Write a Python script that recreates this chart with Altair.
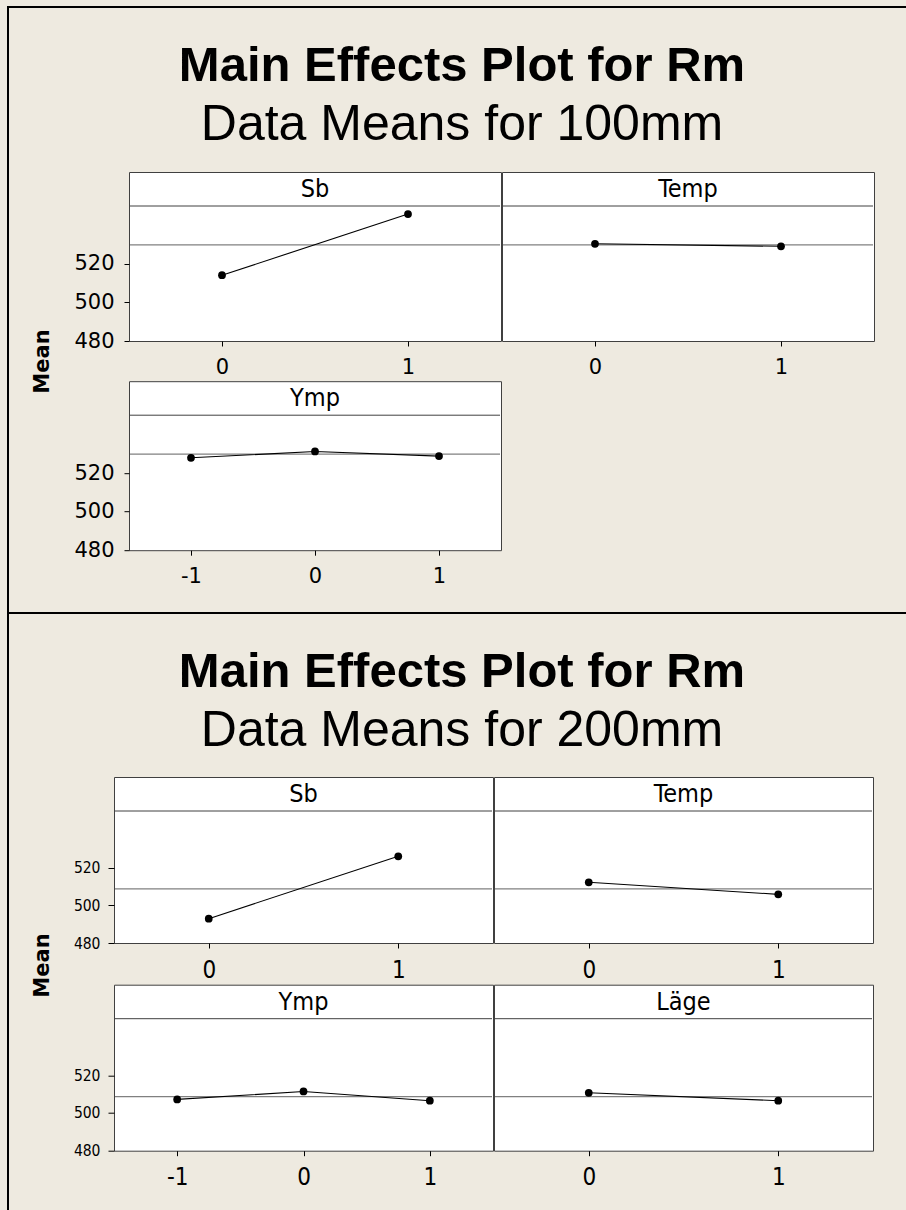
import altair as alt
import pandas as pd

# ---------------- data ----------------
main_title = "Main Effects Plot for Rm"
subtitle_100 = "Data Means for 100mm"
subtitle_200 = "Data Means for 200mm"
y_label = "Mean"

# 100 mm section
f100_names = ["Sb", "Temp", "Ymp"]
f100_levels = [[0, 1], [0, 1], [-1, 0, 1]]
f100_means = [[514.1, 545.8], [530.4, 529.1], [527.9, 531.2, 528.8]]
grand100 = 529.8

# 200 mm section
f200_names = ["Sb", "Temp", "Ymp", "Läge"]
f200_levels = [[0, 1], [0, 1], [-1, 0, 1], [0, 1]]
f200_means = [[492.9, 526.0], [512.2, 505.8], [507.2, 511.4, 506.5], [510.7, 506.5]]
grand200 = 508.7

y_ticks = [480, 500, 520]
y_domain = [480, 550]

# ---------------- style ----------------
BG = "#EEEAE0"
FRAME = "#404040"
REF = "#808080"
COND = "DejaVu Sans Condensed, DejaVu Sans"

STYLE_100 = dict(head_h=34, plot_h=135, head_font=COND, head_fs=25, head_base=25,
                 yfont="DejaVu Sans", yfs=21, ytick=5, ypad=10,
                 xfont="DejaVu Sans", xfs=21, xtick=5, xpad=10)
STYLE_200 = dict(head_h=34, plot_h=132, head_font=COND, head_fs=25, head_base=25,
                 yfont=COND, yfs=15.5, ytick=6, ypad=8,
                 xfont=COND, xfs=24, xtick=5, xpad=10)


def panel(name, levels, means, grand, width, show_y, st):
    head_h, plot_h = st["head_h"], st["plot_h"]
    total = head_h + plot_h
    df = pd.DataFrame({"level": levels, "mean": means})
    ref = pd.DataFrame({"mean": [grand]})
    lab = pd.DataFrame({"name": [name]})
    xs = alt.Scale(domain=[min(levels) - 0.5, max(levels) + 0.5], nice=False, zero=False)
    ys = alt.Scale(domain=y_domain, range=[total, head_h], nice=False, zero=False)
    if show_y:
        yaxis = alt.Axis(values=y_ticks, title=None, grid=False, domain=False,
                         tickSize=st["ytick"], tickColor="black", labelPadding=st["ypad"],
                         labelFont=st["yfont"], labelFontSize=st["yfs"], labelColor="black")
    else:
        yaxis = None
    xaxis = alt.Axis(values=levels, title=None, grid=False, domain=False,
                     tickSize=st["xtick"], tickColor="black", labelPadding=st["xpad"],
                     labelFont=st["xfont"], labelFontSize=st["xfs"], labelColor="black",
                     labelFlush=False,
                     labelExpr="datum.value < 0 ? '-' + format(-datum.value, 'd') : format(datum.value, 'd')")
    ref_line = alt.Chart(ref).mark_rule(color=REF, strokeWidth=1.3).encode(
        x=alt.value(1), x2=alt.value(width - 1),
        y=alt.Y("mean:Q", scale=ys, axis=yaxis))
    line = alt.Chart(df).mark_line(color="black", strokeWidth=1.1).encode(
        x=alt.X("level:Q", scale=xs, axis=xaxis),
        y=alt.Y("mean:Q", scale=ys, axis=yaxis))
    pts = alt.Chart(df).mark_circle(color="black", size=60, opacity=1).encode(
        x=alt.X("level:Q", scale=xs, axis=xaxis),
        y=alt.Y("mean:Q", scale=ys, axis=yaxis))
    hline = alt.Chart(lab).mark_rule(color=FRAME, strokeWidth=1).encode(
        x=alt.value(1), x2=alt.value(width - 1), y=alt.value(head_h))
    htext = alt.Chart(lab).mark_text(font=st["head_font"], fontSize=st["head_fs"],
                                     align="center", baseline="alphabetic", color="black").encode(
        text="name:N", x=alt.value(width / 2), y=alt.value(st["head_base"]))
    return alt.layer(ref_line, line, pts, hline, htext).properties(
        width=width, height=total,
        view=alt.ViewBackground(fill="white", stroke=FRAME, strokeWidth=1, strokeOpacity=1))


def title_chart(sub, width, height):
    d = pd.DataFrame({"t": [main_title], "s": [sub]})
    base = alt.Chart(d)
    t1 = base.mark_text(font="Liberation Sans", fontSize=49, fontWeight="bold", align="center",
                        baseline="alphabetic", color="black").encode(
        text="t:N", x=alt.value(455), y=alt.value(75))
    t2 = base.mark_text(font="Liberation Sans", fontSize=50, fontWeight="normal", align="center",
                        baseline="alphabetic", color="black").encode(
        text="s:N", x=alt.value(455), y=alt.value(134))
    top_bar = base.mark_rect(color="black").encode(
        x=alt.value(0), x2=alt.value(width), y=alt.value(0), y2=alt.value(2))
    left_bar = base.mark_rect(color="black").encode(
        x=alt.value(0), x2=alt.value(2), y=alt.value(0), y2=alt.value(height))
    return alt.layer(top_bar, left_bar, t1, t2).properties(
        width=width, height=height,
        view=alt.ViewBackground(fill="transparent", strokeOpacity=0))


def label_chart(width, height, cy):
    d = pd.DataFrame({"t": [y_label]})
    base = alt.Chart(d)
    txt = base.mark_text(font="DejaVu Sans", fontSize=21, fontWeight="bold", angle=270,
                         align="center", baseline="middle", color="black").encode(
        text="t:N", x=alt.value(35.5), y=alt.value(cy))
    left_bar = base.mark_rect(color="black").encode(
        x=alt.value(0), x2=alt.value(2), y=alt.value(-1), y2=alt.value(height))
    return alt.layer(left_bar, txt).properties(
        width=width, height=height,
        view=alt.ViewBackground(fill="transparent", strokeOpacity=0))


# ---------------- section 100 mm ----------------
p_sb1 = panel(f100_names[0], f100_levels[0], f100_means[0], grand100, 372, True, STYLE_100)
p_te1 = panel(f100_names[1], f100_levels[1], f100_means[1], grand100, 372, False, STYLE_100)
p_ym1 = panel(f100_names[2], f100_levels[2], f100_means[2], grand100, 372, True, STYLE_100)
grid1 = alt.vconcat(alt.hconcat(p_sb1, p_te1, spacing=-2),
                    alt.hconcat(p_ym1, spacing=0), spacing=2.2)
sec1 = alt.hconcat(label_chart(66, 440, 189.5), grid1, spacing=0)

# ---------------- section 200 mm ----------------
p_sb2 = panel(f200_names[0], f200_levels[0], f200_means[0], grand200, 379, True, STYLE_200)
p_te2 = panel(f200_names[1], f200_levels[1], f200_means[1], grand200, 379, False, STYLE_200)
p_ym2 = panel(f200_names[2], f200_levels[2], f200_means[2], grand200, 379, True, STYLE_200)
p_la2 = panel(f200_names[3], f200_levels[3], f200_means[3], grand200, 379, False, STYLE_200)
grid2 = alt.vconcat(alt.hconcat(p_sb2, p_te2, spacing=-2),
                    alt.hconcat(p_ym2, p_la2, spacing=-2), spacing=0.7)
sec2 = alt.hconcat(label_chart(65, 435, 188.5), grid2, spacing=0)

chart = alt.vconcat(
    title_chart(subtitle_100, 899, 165), sec1,
    title_chart(subtitle_200, 899, 164), sec2,
    spacing=0,
).properties(
    padding={"left": 7, "top": 6, "right": 0, "bottom": 0},
    background=BG,
).configure_view(strokeOpacity=0)

chart.save("out.html", embed_options={"renderer": "svg", "actions": False})
